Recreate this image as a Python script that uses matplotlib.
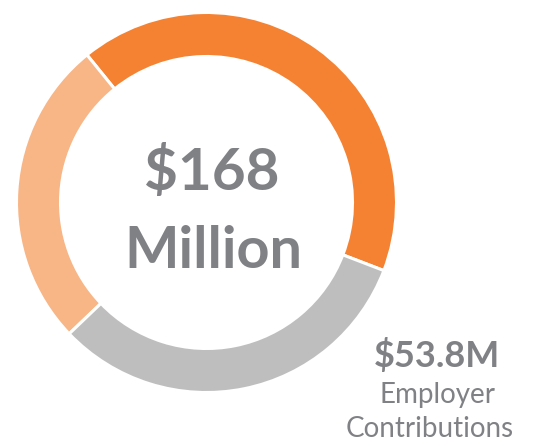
import matplotlib

matplotlib.use("Agg")
import matplotlib.pyplot as plt

# funding sources, $ millions (counter-clockwise from the right)
sources = ["Investment Income", "Member Contributions", "Employer Contributions"]
amounts = [70.0, 44.2, 53.8]
colors = ["#f58232", "#f8b586", "#bebebe"]

total_label = ["$168", "Million"]
callout_value = "$53.8M"
callout_text = ["Employer", "Contributions"]

W, H = 535, 446
TEXT = "#808184"

fig = plt.figure(figsize=(W / 100, H / 100), dpi=100)
ax = fig.add_axes([0, 0, 1, 1])

ax.pie(
    amounts,
    colors=colors,
    startangle=-21,
    counterclock=True,
    radius=190,
    center=(206.5, H - 202.5),
    wedgeprops=dict(width=44, edgecolor="white", linewidth=2.2),
    frame=True,
)
ax.set_xlim(0, W)
ax.set_ylim(0, H)
ax.set_aspect("equal")
ax.axis("off")

font = "Lato"
ax.text(212, H - 190, total_label[0], ha="center", va="baseline",
        fontsize=42, fontweight="bold", color=TEXT, family=font)
ax.text(213, H - 268, total_label[1], ha="center", va="baseline",
        fontsize=41.5, fontweight="bold", color=TEXT, family=font)

ax.text(437, H - 367, callout_value, ha="center", va="baseline",
        fontsize=26, fontweight="bold", color=TEXT, family=font)
ax.text(438, H - 403, callout_text[0], ha="center", va="baseline",
        fontsize=20, color=TEXT, family=font)
ax.text(430, H - 437, callout_text[1], ha="center", va="baseline",
        fontsize=20, color=TEXT, family=font)

fig.savefig("out.png", dpi=100)
plt.close(fig)
